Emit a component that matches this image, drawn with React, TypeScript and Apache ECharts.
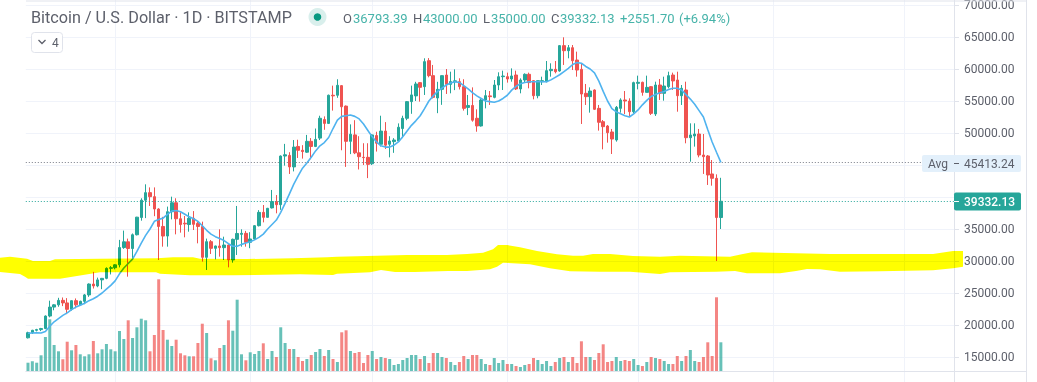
import React, { useEffect, useRef } from "react";
import * as echarts from "echarts";

const opens = [18000,18800,19170,19280,19450,21400,22800,23150,23850,23450,22450,23800,23150,23700,24700,26400,26100,27050,27290,28850,
28950,29400,32100,33000,31950,34100,36800,39500,40680,40050,38125,35400,33900,37700,39100,36600,35900,35700,36670,35885,35400,30575,33020,31980,32345,32085,32500,30160,33385,34165,34320,
32920,33440,35520,37600,36820,38300,39300,38800,46400,46500,44700,47900,47300,47000,48700,47900,49200,52100,51500,55900,55900,57400,54200,48700,49700,46900,46200,46200,
45200,49600,48240,50300,48240,48650,48750,50700,52300,54900,55800,57870,57240,61300,58960,55470,56825,59060,57600,58000,58020,57240,54000,54300,52300,51100,55150,55800,55570,57500,58800,
58800,58440,59060,56880,58280,59170,58180,55830,58020,58020,59740,59950,59690,63650,62860,63330,61400,59950,56200,55680,56720,53850,51770,51090,50160,48910,53850,55160,55000,53330,
57760,57920,56350,57240,52970,57500,56200,57240,59060,58280,55830,56720,49270,49530,49840,46560,46410,43600,42920,36793.39];
const closes = [18800,19170,19280,19450,21400,22800,23150,23850,23450,22450,23800,23150,23700,24700,26400,26100,27050,27290,28850,28950,
29400,32100,33000,31950,34100,36850,39500,40680,40050,38125,35400,33900,37700,39100,36600,35700,35800,36670,35730,35400,30575,33020,31980,32345,32085,32500,30160,33385,34300,34320,32920,
33440,35520,37600,36820,38230,39300,38800,46400,46600,44700,47800,47300,47100,48700,47900,49000,52300,51500,55900,55800,57450,54100,48700,49800,46900,46300,46150,45100,
49700,48400,50300,48100,48750,48900,50900,52300,54900,55950,57660,57135,61150,58960,55570,56825,58960,57600,58030,58150,57240,53850,54300,52000,51100,55150,55830,55680,57500,58800,58900,
58440,58910,56880,58280,59170,57870,55830,58180,58180,59740,59950,59580,63650,62860,63330,61300,59840,56090,55680,56560,53700,51670,50990,50050,49060,54010,55160,55000,53330,57870,
57920,56350,57130,53070,57500,56200,57340,58960,58130,55830,56980,49270,49690,49840,46560,46300,43440,42920,36793,39332.13];
const lows = [17900,18600,19000,19050,19350,21200,22300,22850,22950,21700,22250,22600,23000,23250,24400,25700,25900,25600,27150,27900,
28700,29000,31900,27550,30400,34000,36300,36700,38600,37000,30150,32240,32240,36500,34165,34430,33700,34580,34840,32760,29900,28595,31095,30260,30680,30160,29010,29740,30940,32240,32240,
32000,33300,35400,36040,36800,38200,37450,38000,44900,43600,44000,46100,46000,46900,45900,47800,48900,50500,51400,53500,55500,47300,44700,46700,46700,44300,45000,42950,
45000,47100,47900,47500,46200,46900,48600,49200,52000,53000,55000,54900,55940,58700,55400,53100,54400,56100,56200,56700,56800,53500,52800,51770,50200,51000,53850,54380,55420,56700,56720,
57870,58020,56720,56200,57920,56980,55260,55420,57500,57920,58800,59320,59580,60630,61670,59840,58800,51410,54380,53180,53590,50370,47450,48490,46720,48650,53180,52970,52550,53070,
56820,55830,56350,52810,52660,55160,55050,56980,56720,53330,54380,48390,45520,47870,46200,43600,41880,41770,30000,35000];
const highs = [18950,19250,19400,19550,21500,23800,23250,24250,24300,24200,23850,24150,23800,24850,26500,28300,27400,27350,29000,29200,
29500,33300,34750,33500,34300,36900,39800,41980,41500,41500,38250,36900,38500,40050,39800,37600,37030,37600,37800,36150,36150,33500,33280,32400,34950,33800,32600,33500,38600,34950,34700,
34500,35600,37950,38750,38300,41100,40300,46500,48300,47000,48900,48950,48100,49700,49200,50700,52700,52600,56000,57400,58400,57500,54300,51350,52000,49500,48400,48400,
49800,50200,52700,51700,49500,49200,51500,52700,55000,57400,58000,57950,61670,61700,60630,58000,59000,60000,59580,59950,58550,58400,55940,57130,53700,55300,56720,56560,58280,59480,59740,
59430,60100,59740,58540,59320,59430,58280,58180,58800,61250,60890,61250,63750,64950,63750,63750,62710,60890,57660,57130,56820,54380,52030,51250,50630,54220,55420,56560,55420,58020,
58960,58020,58960,57340,58020,58440,58800,59580,59430,59580,57500,58020,51510,51510,50630,49840,46560,45780,43540,43000];
const movingAverage = [18700,18750,18800,18750,19000,19800,20500,21000,21500,21900,22400,22800,23100,23400,23800,24100,24500,25000,25600,26200,
26900,28000,28900,29600,30300,31500,32800,34000,35000,36200,36500,36700,37300,37800,37900,37700,37300,36900,36600,36200,35500,34800,34200,33800,33500,33200,32700,32300,32300,32600,32800,
33000,33300,33700,34200,35000,35700,36400,37600,39000,40500,42000,43300,44500,45300,46200,47200,48000,48500,49300,50700,52000,52600,52700,52800,52600,52200,51400,50400,
49400,48600,48000,47800,47800,48100,48600,49400,50300,51200,51900,52700,53800,55000,55800,56500,57000,57500,57800,58000,57900,57400,56900,56300,55800,55400,55000,54900,54800,55000,55400,
55900,56700,57300,57700,57900,58000,58000,58000,58000,58000,58300,58700,59100,59600,60100,60700,61000,60900,60400,60000,59400,58100,56500,55000,53800,53300,53000,52700,52500,53000,
53600,54400,55100,55700,56000,56300,56500,56800,57000,57000,56700,56000,55300,54500,53500,52500,50500,48600,47000,45413];
const volumes = [8.3,9.7,8.3,15.7,34,51.7,26,19.7,11.7,29.3,20.7,26,16.7,14.7,16.7,30,17.7,21.7,27,21.7,
19.7,40,32,50.7,33,43.7,52.3,50.7,19.7,36,91.7,41,31.3,25,31.3,17.7,15.7,14.7,14.7,28,47.3,38,12.7,10.7,23,26,50.7,40.3,71.3,16.7,10.7,
18.7,17,20,27.7,12,20,14,43.7,28,22,22,14,10,12,16,19,22,15,21,12,9,38.7,40.7,20,18,19,8,16,
20,12,14,13,12,6,7,11,13,16,16,12,15,8,18,18,14,13,9,6,9,15,12,16,16,12,7,6,13,8,11,
7,7,5,4,6,7,13,11,7,10,5,9,13,14,9,14,8,29.7,14,14,11,18,26.7,9,10,14,10,11,10,12,
6,5,9,14,13,12,10,7,7,15,10,15,21,10,9,14,28.7,15,73.7,28.7];

const gridMonthStarts = ["2021-01-01","2021-02-01","2021-03-01","2021-04-01","2021-05-01","2021-06-01","2021-07-01"];
const priceHidden = [10000, 40000, 45000, 75000];
const avgValue = 45413.24;
const lastValue = 39332.13;

const titleText = "Bitcoin / U.S. Dollar · 1D · BITSTAMP";
const bandTop = [[0,257.7],[10,256.7],[27,258.7],[33,261],[50,261],[55,259.3],[100,258.7],[157,258.3],[173,257.3],[193,257.3],[200,258.7],[247,259],[293,258.3],[327,257.3],[337,256.7],[377,255.7],[407,255],[447,255],[467,254],[483,252.7],[493,249.3],[498,245],[507,245],[520,247.3],[537,251],[557,254.3],[573,255.7],[583,255.7],[593,254],[610,254],[633,256],[660,256.7],[680,255.7],[730,256.7],[743,254],[752,252.3],[830,254],[933,254],[953,251],[963,251]];
const bandBottom = [[963,266.7],[953,268.3],[933,270.3],[880,271.3],[840,271.7],[820,269.3],[807,269],[796,271],[780,273.3],[747,273.3],[735,271],[716,271.7],[693,272],[670,272.3],[660,274],[630,271.7],[600,271.7],[570,271.3],[550,268.3],[530,264.3],[503,262.7],[497,266.7],[490,269.3],[467,271],[448,271],[415,272],[395,272],[381,270],[370,272.3],[337,273.7],[333,275],[300,274.3],[233,275.3],[190,275.3],[160,273.7],[156,272.3],[100,272.3],[60,278.7],[28,278.7],[25,276.7],[20,274],[0,272]];

const baseDate = Date.UTC(2020, 11, 12);
const categories: string[] = [];
for (let i = 0; i < 213; i++) {
  categories.push(new Date(baseDate + i * 86400000).toISOString().slice(0, 10));
}

const UP = "#26a69a";
const DOWN = "#ef5350";
const FONT = "Roboto";
const GREY = "#5d606b";
const LINE = "#e0e3eb";
const GRIDLINE = "#f0f3fa";
const BAND = "#ffff00";

export default function App() {
  const ref = useRef<HTMLDivElement>(null);
  useEffect(() => {
    document.body.style.margin = "0";
    const chart = echarts.init(ref.current!, undefined, { renderer: "svg" });
    const candles = opens.map((o, i) => [o, closes[i], lows[i], highs[i]]);
    const volumeData = volumes.map((v, i) => ({
      value: v,
      itemStyle: { color: closes[i] >= opens[i] ? "rgba(38,166,154,0.7)" : "rgba(239,83,80,0.7)" },
    }));
    const headerParts: [string, number, string][] = [
      ["O", 343, GREY], ["36793.39", 353, UP], ["H", 413, GREY], ["43000.00", 423, UP],
      ["L", 483, GREY], ["35000.00", 491, UP], ["C", 551, GREY], ["39332.13", 560, UP],
      ["+2551.70", 620, UP], ["(+6.94%)", 679, UP],
    ];
    chart.setOption({
      animation: false,
      grid: [
        { left: 25.8, width: 928.2, top: -27, height: 416, outerBoundsMode: "none" },
        { left: 25.8, width: 928.2, top: 271, height: 100, outerBoundsMode: "none" },
      ],
      xAxis: [
        {
          type: "category", gridIndex: 0, data: categories, boundaryGap: true,
          axisLine: { show: false }, axisTick: { show: false }, axisLabel: { show: false },
          splitLine: {
            show: true, alignWithLabel: true,
            lineStyle: { color: GRIDLINE, width: 1 },
            interval: (_i: number, v: string) => gridMonthStarts.includes(v),
          },
        },
        {
          type: "category", gridIndex: 1, data: categories,
          axisLine: { show: true, lineStyle: { color: LINE } },
          axisTick: { show: false }, axisLabel: { show: false }, splitLine: { show: false },
        },
      ],
      yAxis: [
        {
          type: "value", gridIndex: 0, position: "right", min: 10000, max: 75000, interval: 5000,
          axisLine: { show: true, lineStyle: { color: LINE } },
          axisTick: { show: true, length: 5, lineStyle: { color: LINE } },
          axisLabel: {
            margin: 10, color: GREY, fontFamily: FONT, fontSize: 12, lineHeight: 10,
            formatter: (v: number) => (priceHidden.includes(v) ? "" : v.toFixed(2)),
          },
          splitLine: { show: true, lineStyle: { color: GRIDLINE } },
        },
        { type: "value", gridIndex: 1, min: 0, max: 100, show: false },
      ],
      series: [
        {
          type: "bar", name: "Volume", xAxisIndex: 1, yAxisIndex: 1, data: volumeData, barWidth: 3, z: 1,
        },
        {
          type: "candlestick", name: "BTCUSD", xAxisIndex: 0, yAxisIndex: 0, data: candles, barWidth: 3, z: 3,
          itemStyle: { color: UP, color0: DOWN, borderColor: UP, borderColor0: DOWN, borderWidth: 1 },
          markLine: {
            silent: true, symbol: "none", animation: false, label: { show: false },
            data: [
              { yAxis: lastValue, lineStyle: { color: UP, type: [1, 2], width: 1 } },
              { yAxis: avgValue, lineStyle: { color: "#787b86", type: [1, 2], width: 1 } },
            ],
          },
        },
        {
          type: "line", name: "MA", xAxisIndex: 0, yAxisIndex: 0, data: movingAverage, showSymbol: false, z: 4,
          lineStyle: { color: "#4fb3ef", width: 1.6 },
        },
      ],
      graphic: [
        { type: "line", z: 5, shape: { x1: 26, y1: 1, x2: 1026, y2: 1 }, style: { stroke: LINE, lineWidth: 1 } },
        { type: "line", z: 5, shape: { x1: 954, y1: 371.5, x2: 1026, y2: 371.5 }, style: { stroke: LINE, lineWidth: 1 } },
        { type: "line", z: 5, shape: { x1: 1026.5, y1: 0, x2: 1026.5, y2: 382 }, style: { stroke: LINE, lineWidth: 1 } },
        {
          type: "polygon", z: 20,
          shape: { points: [...bandTop, ...bandBottom] },
          style: { fill: BAND },
        },
        { type: "rect", z: 30, shape: { x: 922, y: 155, width: 99, height: 17, r: 2 }, style: { fill: "#e3f0fb" } },
        { type: "text", z: 31, x: 928, y: 163.5, style: { text: "Avg", fill: GREY, font: `12px ${FONT}`, verticalAlign: "middle" } },
        { type: "line", z: 31, shape: { x1: 954, y1: 163.5, x2: 959, y2: 163.5 }, style: { stroke: GREY, lineWidth: 1 } },
        { type: "text", z: 31, x: 964, y: 163.5, style: { text: "45413.24", fill: GREY, font: `12px ${FONT}`, verticalAlign: "middle" } },
        { type: "rect", z: 30, shape: { x: 954, y: 192.5, width: 67, height: 18, r: 2 }, style: { fill: UP } },
        { type: "line", z: 31, shape: { x1: 954, y1: 201.5, x2: 959, y2: 201.5 }, style: { stroke: "#ffffff", lineWidth: 1 } },
        { type: "text", z: 31, x: 964, y: 201.5, style: { text: "39332.13", fill: "#ffffff", font: `500 12px ${FONT}`, verticalAlign: "middle" } },
        { type: "text", z: 31, x: 31, y: 17, style: { text: titleText, fill: GREY, font: `16.2px ${FONT}`, verticalAlign: "middle" } },
        { type: "circle", z: 31, shape: { cx: 317.5, cy: 17, r: 9 }, style: { fill: "#d9efec" } },
        { type: "circle", z: 31, shape: { cx: 317.5, cy: 17, r: 3.8 }, style: { fill: "#089981" } },
        ...headerParts.map(([text, x, fill]) => ({
          type: "text", z: 31, x, y: 18, style: { text, fill, font: `13px ${FONT}`, verticalAlign: "middle", opacity: fill === UP ? 0.85 : 1 },
        })),
        { type: "rect", z: 31, shape: { x: 31.5, y: 32.5, width: 31, height: 20, r: 3 }, style: { fill: "#ffffff", stroke: LINE, lineWidth: 1 } },
        { type: "polyline", z: 32, shape: { points: [[38.5, 40], [42, 43.5], [45.5, 40]] }, style: { stroke: GREY, lineWidth: 1.3, fill: "none" } },
        { type: "text", z: 32, x: 52, y: 42.5, style: { text: "4", fill: GREY, font: `12px ${FONT}`, verticalAlign: "middle" } },
      ],
    });
    return () => chart.dispose();
  }, []);
  return (
    <>
      <style>{`svg path[fill="${BAND}"], svg path[fill="rgb(255,255,0)"], svg path[fill="#ff0"], svg path[fill="yellow"] { mix-blend-mode: multiply; }`}</style>
      <div ref={ref} style={{ width: 1037, height: 382 }} />
    </>
  );
}
